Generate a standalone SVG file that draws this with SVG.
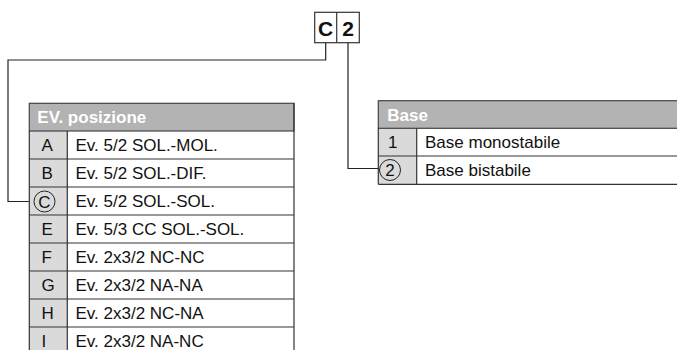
<svg xmlns="http://www.w3.org/2000/svg" width="677" height="350" viewBox="0 0 677 350">
<style>
.t{font-family:"Liberation Sans",Arial,sans-serif;font-size:17px;fill:#111}
.h{font-family:"Liberation Sans",Arial,sans-serif;font-size:17px;font-weight:bold;fill:#fff}
.code{font-family:"Liberation Sans",Arial,sans-serif;font-size:21px;font-weight:bold;fill:#111}
.hdr{fill:#b3b3b3;stroke:#444;stroke-width:1.2}
.key{fill:#dadada}
.ln{stroke:#333;stroke-width:1.2;fill:none}
.circ{fill:none;stroke:#222;stroke-width:1}
.conn{fill:none;stroke:#222;stroke-width:1.2}
</style>
<rect width="677" height="350" fill="#fff"/>
<g id="code">
<rect x="314.7" y="12.3" width="44.6" height="30.4" fill="#fff" stroke="#333" stroke-width="1.2"/>
<line x1="336.7" y1="12.3" x2="336.7" y2="42.7" stroke="#333" stroke-width="1.2"/>
<text class="code" x="325.7" y="36" text-anchor="middle">C</text>
<text class="code" x="348" y="36" text-anchor="middle">2</text>
</g>
<g id="connectors">
<polyline class="conn" points="325.7,42.7 325.7,60 8,60 8,201.5 34,201.5"/>
<polyline class="conn" points="348,42.7 348,168.5 379.5,168.5" stroke="#555"/>
</g>
<g id="table-ev">
<rect class="key" x="29.3" y="131" width="38" height="225"/>
<rect class="hdr" x="29.3" y="103.3" width="264.7" height="27.7"/>
<text class="h" x="37.3" y="123">EV. posizione</text>
<g class="ln">
<line x1="29.3" y1="131" x2="29.3" y2="350"/>
<line x1="294" y1="103.3" x2="294" y2="350"/>
<line x1="67.3" y1="131" x2="67.3" y2="350"/>
<line x1="29.3" y1="159" x2="294" y2="159"/>
<line x1="29.3" y1="187" x2="294" y2="187"/>
<line x1="29.3" y1="215" x2="294" y2="215"/>
<line x1="29.3" y1="243" x2="294" y2="243"/>
<line x1="29.3" y1="271" x2="294" y2="271"/>
<line x1="29.3" y1="299" x2="294" y2="299"/>
<line x1="29.3" y1="327" x2="294" y2="327"/>
</g>
<text class="t" x="41.5" y="151">A</text><text class="t" x="75.5" y="151">Ev. 5/2 SOL.-MOL.</text>
<text class="t" x="41.5" y="179">B</text><text class="t" x="75.5" y="179">Ev. 5/2 SOL.-DIF.</text>
<circle class="circ" cx="44.5" cy="201.5" r="10.5"/>
<text class="t" x="44.5" y="207.5" text-anchor="middle">C</text><text class="t" x="75.5" y="207">Ev. 5/2 SOL.-SOL.</text>
<text class="t" x="41.5" y="235">E</text><text class="t" x="75.5" y="235">Ev. 5/3 CC SOL.-SOL.</text>
<text class="t" x="41.5" y="263">F</text><text class="t" x="75.5" y="263">Ev. 2x3/2 NC-NC</text>
<text class="t" x="41.5" y="291">G</text><text class="t" x="75.5" y="291">Ev. 2x3/2 NA-NA</text>
<text class="t" x="41.5" y="319">H</text><text class="t" x="75.5" y="319">Ev. 2x3/2 NC-NA</text>
<text class="t" x="41.5" y="347">I</text><text class="t" x="75.5" y="347">Ev. 2x3/2 NA-NC</text>
</g>
<g id="table-base">
<rect class="key" x="378.3" y="128.3" width="38.4" height="56"/>
<rect class="hdr" x="378.3" y="100.7" width="310" height="27.6"/>
<text class="h" x="387.3" y="120.5">Base</text>
<g class="ln">
<line x1="378.3" y1="128.3" x2="378.3" y2="184.3"/>
<line x1="416.7" y1="128.3" x2="416.7" y2="184.3"/>
<line x1="378.3" y1="156" x2="677" y2="156"/>
<line x1="378.3" y1="184.3" x2="677" y2="184.3"/>
</g>
<text class="t" x="388" y="148">1</text><text class="t" x="425" y="148">Base monostabile</text>
<circle class="circ" cx="390" cy="170" r="10.5"/>
<text class="t" x="390" y="176" text-anchor="middle">2</text><text class="t" x="425" y="176">Base bistabile</text>
</g>
</svg>
